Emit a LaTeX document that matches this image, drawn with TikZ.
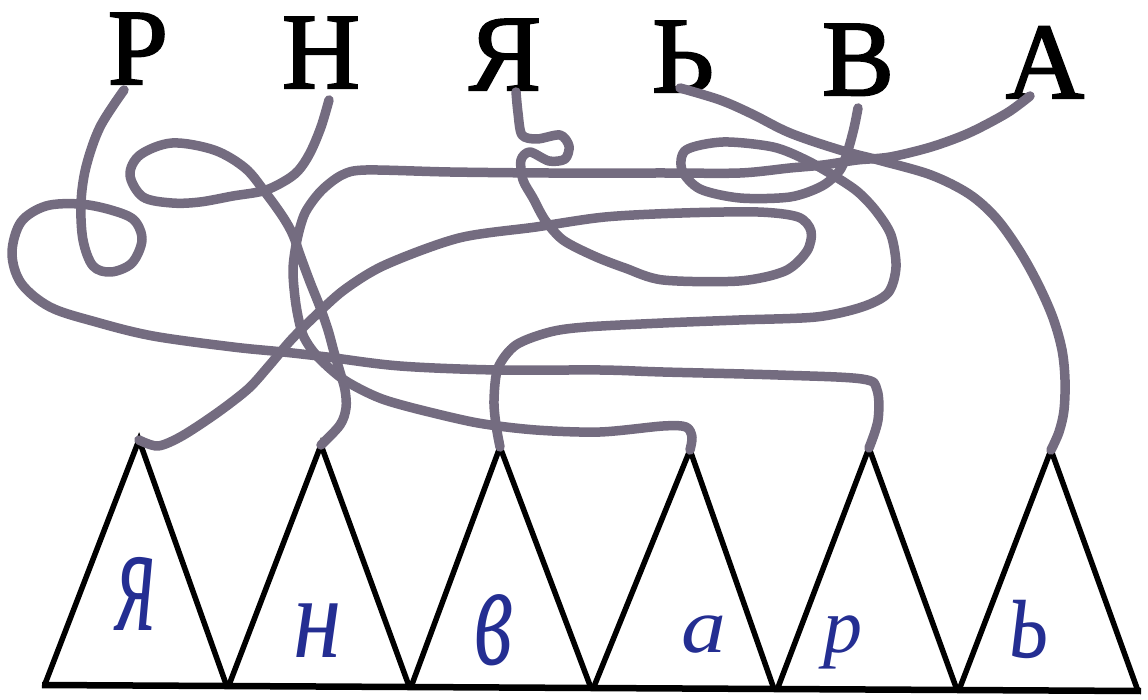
\documentclass[tikz,border=0pt]{standalone}
\usepackage{fontspec}
\setmainfont{Liberation Serif}
\newfontfamily\heavyfont[FakeBold=2]{Liberation Serif}
\definecolor{strc}{RGB}{116,108,128}
\definecolor{handblue}{RGB}{36,46,146}
\begin{document}
\begin{tikzpicture}[x=1pt,y=-1pt,
  rope/.style={line width=9.5pt, draw=strc, line cap=round, line join=round},
  tri/.style={line width=5.5pt, draw=black, line join=miter},
  big/.style={font=\heavyfont\fontsize{108}{108}\selectfont, inner sep=0pt, anchor=base},
  hand/.style={font=\fontsize{78}{78}\selectfont\itshape, text=handblue, inner sep=0pt, anchor=base, transform shape}]
\useasboundingbox (0,0) rectangle (1148,700);
% top letters
\node[big] (LP) at (138,84) {Р};
\node[big] (LN) at (321,88) {Н};
\node[big] (LYa) at (505,90) {Я};
\node[big] (LSo) at (683,92) {Ь};
\node[big] (LV) at (858,95) {В};
\node[big] (LA) at (1045,98) {А};
% string ends
\coordinate (sP) at (124,90);
\coordinate (sN) at (329,100);
\coordinate (sYa) at (516,92);
\coordinate (sSo) at (680,88);
\coordinate (sV) at (858,108);
\coordinate (sA) at (1030,96);
% triangle apexes
\coordinate (a1) at (139,440);
\coordinate (a2) at (321,445);
\coordinate (a3) at (500,447);
\coordinate (a4) at (690,450);
\coordinate (a5) at (869,448);
\coordinate (a6) at (1051,450);
% triangles
\draw[tri] (45,684) -- (a1) -- (226,684);
\draw[tri] (229,685) -- (a2) -- (409,686);
\draw[tri] (411,687) -- (a3) -- (591,688);
\draw[tri] (593,689) -- (a4) -- (774,689);
\draw[tri] (777,690) -- (a5) -- (957,690);
\draw[tri] (959,690) -- (a6) -- (1138,691);
\draw[line width=6.5pt] (42,685) -- (1141,691);
% handwritten letters
\node[hand, xscale=1.1, yscale=2.0] (h1) at (136,630) {я};
\node[hand, xscale=1.25, yscale=1.5] (h2) at (318,657) {н};
\node[hand, xscale=1.15, yscale=1.9] (h3) at (494,664) {в};
\node[hand, xscale=1.15, yscale=1.0] (h4) at (704,652) {а};
\node[hand, xscale=1.0, yscale=1.0] (h5) at (843,652) {р};
\node[hand, xscale=1.1, yscale=1.6] (h6) at (1029,657) {ь};
% strings
% P -> p
\draw[rope] plot[smooth, tension=0.55] coordinates {(sP) (100,127) (86,167) (81,203) (83,240) (93,266) (111,272) (132,263) (142,240) (134,220) (111,210) (80,204) (46,206) (21,222) (12,253) (21,283) (50,307) (96,322) (153,336) (233,347) (283,352) (327,357) (400,366) (497,370) (600,370) (663,372) (778,375) (862,379) (877,390) (878,420) (a5)};
% N -> n
\draw[rope] plot[smooth, tension=0.55] coordinates {(sN) (321,127) (310,153) (298,171) (283,182) (263,191) (233,196) (200,202) (172,203) (143,197) (130,175) (140,155) (172,143) (214,150) (245,168) (265,192) (283,217) (293,235) (300,255) (310,282) (320,307) (328,330) (334,352) (340,372) (345,390) (346,408) (340,425) (a2)};
% Ya -> ya
\draw[rope] plot[smooth, tension=0.5] coordinates {(sYa) (518,113) (522,135) (537,139) (560,135) (569,146) (565,159) (549,161) (530,152) (521,160) (523,180) (533,198) (545,220) (563,240) (594,256) (625,268) (663,280) (739,281) (785,271) (807,251) (811,231) (798,217) (758,212) (682,213) (605,217) (536,227) (459,238) (385,265) (344,290) (314,317) (291,340) (268,367) (248,389) (217,413) (182,436) (158,446) (a1)};
% So -> so
\draw[rope] plot[smooth, tension=0.55] coordinates {(sSo) (720,100) (752,114) (790,133) (840,150) (882,161) (931,175) (969,194) (996,218) (1019,250) (1038,284) (1053,318) (1062,350) (1065,380) (1064,410) (1059,432) (a6)};
% V -> v
\draw[rope] plot[smooth, tension=0.5] coordinates {(sV) (854,128) (848,150) (840,170) (822,186) (790,197) (740,198) (700,189) (682,170) (686,150) (723,142) (773,147) (806,160) (836,177) (858,192) (876,211) (891,235) (896,267) (888,293) (862,307) (816,317) (739,320) (663,323) (586,327) (550,332) (516,345) (498,368) (494,400) (496,425) (a3)};
% A -> a
\draw[rope] plot[smooth, tension=0.5] coordinates {(sA) (1007,113) (969,133) (931,147) (890,157) (857,160) (823,165) (790,168) (740,173) (663,173) (548,173) (450,172) (366,170) (342,175) (321,191) (305,213) (297,240) (293,270) (296,305) (303,335) (317,356) (340,377) (362,390) (385,400) (421,410) (478,423) (536,430) (600,432) (663,426) (686,427) (692,437) (a4)};
\end{tikzpicture}
\end{document}
